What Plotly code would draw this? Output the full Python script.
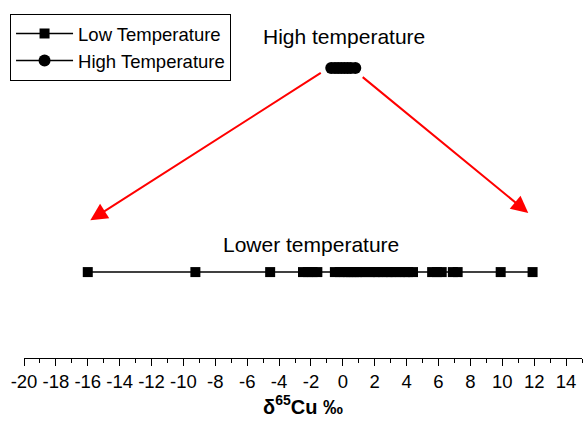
import plotly.graph_objects as go

# Data
low_temp_x = [-16.0, -9.25, -4.56, -2.5, -2.2, -1.9, -1.6,
              -0.5, -0.2, 0.1, 0.3, 0.5, 0.7, 0.9, 1.1, 1.4, 1.7, 2.0, 2.2,
              2.5, 2.8, 3.0, 3.3, 3.6, 3.9, 4.1, 4.4,
              5.6, 5.9, 6.2, 6.9, 7.2, 9.9, 11.9]
low_temp_y = [2.4] * len(low_temp_x)
high_temp_x = [-0.73, -0.5, -0.3, -0.1, 0.1, 0.3, 0.5, 0.78]
high_temp_y = [8.1] * len(high_temp_x)

tick_vals = list(range(-20, 15, 2))
tick_text = [str(v) for v in tick_vals]

fig = go.Figure()
fig.add_trace(go.Scatter(
    x=low_temp_x, y=low_temp_y, mode="lines+markers", name="Low Temperature",
    line=dict(color="black", width=1.5),
    marker=dict(symbol="square", size=10, color="black"),
))
fig.add_trace(go.Scatter(
    x=high_temp_x, y=high_temp_y, mode="lines+markers", name="High Temperature",
    line=dict(color="black", width=1.5),
    marker=dict(symbol="circle", size=12, color="black"),
))

arrows = [(-1.29, 7.99, -15.84, 3.85), (1.15, 7.88, 11.63, 4.05)]
for x0, y0, x1, y1 in arrows:
    fig.add_annotation(x=x1, y=y1, ax=x0, ay=y0, xref="x", yref="y",
                       axref="x", ayref="y", showarrow=True, text="",
                       arrowhead=2, arrowsize=1.7, arrowwidth=2, arrowcolor="red")

fig.add_annotation(x=0.08, y=8.99, xref="x", yref="y", text="High temperature",
                   showarrow=False, font=dict(size=21, color="black"))
fig.add_annotation(x=-1.98, y=3.18, xref="x", yref="y", text="Lower temperature",
                   showarrow=False, font=dict(size=21, color="black"))

fig.update_layout(
    width=583, height=422,
    margin=dict(l=24, r=1, t=0, b=64, autoexpand=False),
    paper_bgcolor="white", plot_bgcolor="white",
    font=dict(family="Liberation Sans, Arial, sans-serif", size=18, color="black"),
    showlegend=True,
    legend=dict(x=-0.025, y=0.961, xanchor="left", yanchor="top",
                bordercolor="black", borderwidth=1, bgcolor="white",
                itemwidth=57, tracegroupgap=0,
                font=dict(size=18.5)),
    xaxis=dict(range=[-20, 15], showline=True, linecolor="black", linewidth=1,
               showgrid=False, zeroline=False, automargin=False,
               tickmode="array", tickvals=tick_vals, ticktext=tick_text,
               ticks="outside", ticklen=7, tickwidth=1, tickcolor="black",
               minor=dict(dtick=1, ticks="outside", ticklen=4, tickcolor="black"),
               tickfont=dict(size=18.5),
               title=dict(text="<b>δ<sup>65</sup>Cu ‰</b>", font=dict(size=20), standoff=8)),
    yaxis=dict(range=[0, 10], visible=False),
)

fig.write_html("out.html", config={"displayModeBar": False},
               post_script="document.body.style.margin='0';document.body.style.overflow='hidden';")
